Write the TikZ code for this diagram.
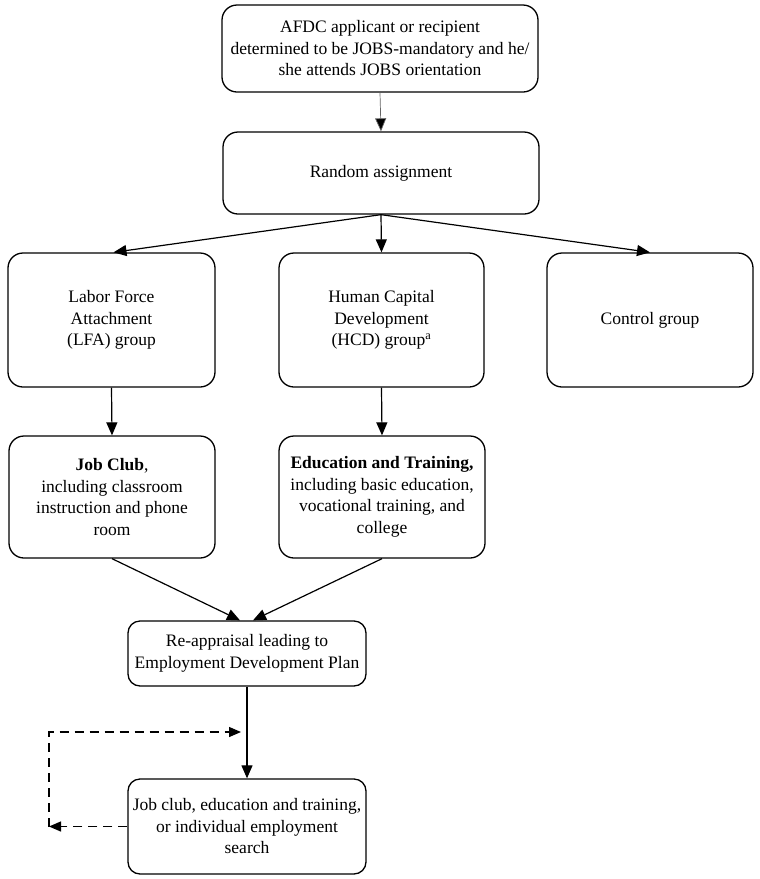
\documentclass[tikz,border=0pt]{standalone}
\usepackage{fontspec}
\setmainfont{Liberation Serif}
\usetikzlibrary{arrows.meta,calc}
\begin{document}
\begin{tikzpicture}[x=1pt,y=-1pt,
  box/.style={draw,line width=1.3pt,rounded corners=15pt,align=center,inner sep=0pt,
    font=\fontsize{17.5}{21.5}\selectfont},
  arr/.style={line width=1.2pt,-{Triangle[length=13pt,width=11pt]}},
  darr/.style={line width=1.3pt,dash pattern=on 9pt off 6pt,-{Triangle[length=12pt,width=10pt]}}]
\useasboundingbox (0,0) rectangle (760,879);
\node[box,minimum width=316pt,minimum height=87pt] (top) at (380,48.5)
  {AFDC applicant or recipient\\determined to be JOBS-mandatory and he/\\she attends JOBS orientation};
\node[box,minimum width=316pt,minimum height=82pt] (rand) at (381,173) {Random assignment};
\node[box,minimum width=207pt,minimum height=134pt] (lfa) at (111.5,320)
  {Labor Force\\Attachment\\(LFA) group};
\node[box,minimum width=205pt,minimum height=134pt] (hcd) at (381.5,320)
  {Human Capital\\Development\\(HCD) group\textsuperscript{a}};
\node[box,minimum width=206pt,minimum height=134pt] (ctrl) at (650,320) {Control group};
\node[box,minimum width=206pt,minimum height=122pt] (job) at (112,497)
  {\textbf{Job Club},\\including classroom\\instruction and phone\\room};
\node[box,minimum width=206pt,minimum height=122pt] (edu) at (382,497)
  {\textbf{Education and Training,}\\including basic education,\\vocational training, and\\college};
\node[box,rounded corners=12pt,minimum width=238pt,minimum height=65pt] (reap) at (247,653.5)
  {Re-appraisal leading to\\Employment Development Plan};
\node[box,rounded corners=12pt,minimum width=238pt,minimum height=95pt] (bot) at (247,826.5)
  {Job club, education and training,\\or individual employment\\search};
\coordinate (loopL) at (49,826.5);
\coordinate (loopT) at (241,732);
\draw[line width=0.7pt,draw=black!60,-{Triangle[length=13pt,width=11pt,fill=black]}] (top.south) -- (rand.north);
\draw[arr] (rand.south) -- ([xshift=2pt]lfa.north);
\draw[arr] (rand.south) -- (hcd.north);
\draw[arr] (rand.south) -- (ctrl.north);
\draw[arr] (lfa.south) -- (job.north);
\draw[arr] (hcd.south) -- (edu.north);
\draw[arr] (job.south) -- ([xshift=-7pt]reap.north);
\draw[arr] (edu.south) -- ([xshift=6pt]reap.north);
\draw[arr] (reap.south) -- (bot.north);
\draw[darr] (bot.west) -- (loopL);
\draw[darr] (loopL) |- (loopT);
\end{tikzpicture}
\end{document}
